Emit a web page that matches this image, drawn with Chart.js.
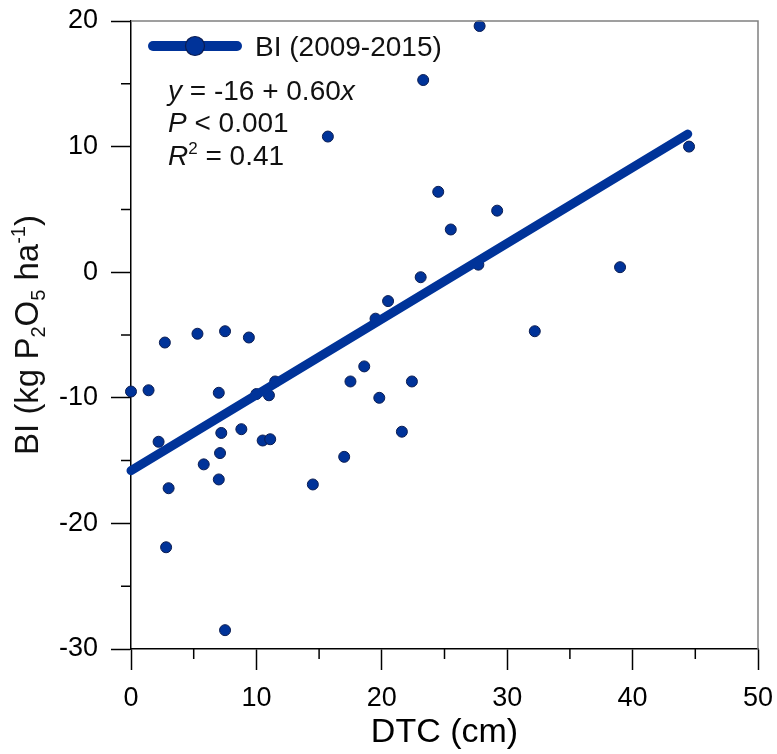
<!DOCTYPE html>
<html>
<head>
<meta charset="utf-8">
<script src="https://cdn.jsdelivr.net/npm/chart.js@4.4.1/dist/chart.umd.min.js"></script>
<style>
  body { margin: 0; background: #fff; }
  #wrap { width: 777px; height: 754px; }
</style>
</head>
<body>
<div id="wrap"><canvas id="myChart" width="777" height="754"></canvas></div>
<script>
// DTC (cm) vs BI (kg P2O5 / ha)
var dtc = [0, 1.4, 2.2, 2.7, 2.8, 3.0, 5.3, 5.8, 7.0, 7.0, 7.1, 7.2, 7.5, 7.5, 8.8, 9.4,
           10.0, 10.5, 11.0, 11.1, 11.5, 14.5, 15.7, 17.0, 17.5, 18.6, 19.5, 19.8, 20.5,
           21.6, 22.4, 23.1, 23.3, 24.5, 25.5, 27.7, 27.8, 29.2, 32.2, 39.0, 44.5];
var bi = [-9.5, -9.4, -13.5, -5.6, -21.9, -17.2, -4.9, -15.3, -9.6, -16.5, -14.4, -12.8, -4.7, -28.5, -12.5, -5.2,
          -9.7, -13.4, -9.8, -13.3, -8.7, -16.9, 10.8, -14.7, -8.7, -7.5, -3.7, -10.0, -2.3,
          -12.7, -8.7, -0.4, 15.3, 6.4, 3.4, 0.6, 19.6, 4.9, -4.7, 0.4, 10.0];

// regression line end points
var fitX = [0, 44.4];
var fitY = [-15.8, 11.0];

var seriesLabel = 'BI (2009-2015)';
var eqLines = [
  [{t: 'y', i: true}, {t: ' = -16 + 0.60'}, {t: 'x', i: true}],
  [{t: 'P', i: true}, {t: ' < 0.001'}],
  [{t: 'R', i: true}, {t: '2', sup: true}, {t: ' = 0.41'}]
];

var blue = '#003399';
var dark = '#0b1d52';
var fam = '"Liberation Sans", Arial, sans-serif';

function drawRich(ctx, x, y, parts, size) {
  parts.forEach(function (p) {
    var s = (p.sup || p.sub) ? Math.round(size * 0.62) : size;
    ctx.font = (p.i ? 'italic ' : '') + s + 'px ' + fam;
    var dy = p.sup ? -size * 0.38 : (p.sub ? size * 0.22 : 0);
    ctx.fillText(p.t, x, y + dy);
    x += ctx.measureText(p.t).width;
  });
}

function richWidth(ctx, parts, size) {
  var w = 0;
  parts.forEach(function (p) {
    var s = (p.sup || p.sub) ? Math.round(size * 0.62) : size;
    ctx.font = (p.i ? 'italic ' : '') + s + 'px ' + fam;
    w += ctx.measureText(p.t).width;
  });
  return w;
}

var extras = {
  id: 'extras',
  afterDraw: function (chart) {
    var ctx = chart.ctx;
    var a = chart.chartArea;
    var xs = chart.scales.x, ys = chart.scales.y;
    ctx.save();

    // grey frame on top and right
    ctx.strokeStyle = '#808080';
    ctx.lineWidth = 1.5;
    ctx.beginPath();
    ctx.moveTo(a.left, a.top);
    ctx.lineTo(a.right, a.top);
    ctx.lineTo(a.right, a.bottom);
    ctx.stroke();

    // minor ticks
    ctx.strokeStyle = '#000';
    ctx.lineWidth = 1.5;
    ctx.beginPath();
    xs.ticks.forEach(function (t) {
      if (t.value % 10 !== 0) {
        var px = xs.getPixelForValue(t.value);
        ctx.moveTo(px, a.bottom);
        ctx.lineTo(px, a.bottom + 10);
      }
    });
    ys.ticks.forEach(function (t) {
      if (t.value % 10 !== 0) {
        var py = ys.getPixelForValue(t.value);
        ctx.moveTo(a.left, py);
        ctx.lineTo(a.left - 10, py);
      }
    });
    ctx.stroke();

    // legend
    var ly = 46;
    ctx.strokeStyle = blue;
    ctx.lineWidth = 10;
    ctx.lineCap = 'round';
    ctx.beginPath();
    ctx.moveTo(153, ly);
    ctx.lineTo(237, ly);
    ctx.stroke();
    ctx.beginPath();
    ctx.arc(195, ly, 9.5, 0, Math.PI * 2);
    ctx.fillStyle = blue;
    ctx.fill();
    ctx.lineWidth = 1.2;
    ctx.strokeStyle = dark;
    ctx.stroke();
    ctx.fillStyle = '#111';
    ctx.textBaseline = 'alphabetic';
    ctx.textAlign = 'left';
    ctx.font = '28px ' + fam;
    ctx.fillText(seriesLabel, 255, 56);

    // regression text
    var base = [100, 132, 165];
    eqLines.forEach(function (ln, k) {
      drawRich(ctx, 168, base[k], ln, 28);
    });

    // y axis title with sub/superscripts
    var yt = [
      {t: 'BI (kg P'}, {t: '2', sub: true}, {t: 'O'}, {t: '5', sub: true},
      {t: ' ha'}, {t: '-1', sup: true}, {t: ')'}
    ];
    var size = 33;
    var w = richWidth(ctx, yt, size);
    ctx.translate(38, (a.top + a.bottom) / 2);
    ctx.rotate(-Math.PI / 2);
    drawRich(ctx, -w / 2, 0, yt, size);

    ctx.restore();
  }
};

var tickFont = { family: fam, size: 27 };

var chart = new Chart(document.getElementById('myChart').getContext('2d'), {
  type: 'scatter',
  data: {
    datasets: [
      {
        type: 'line',
        label: 'fit',
        data: fitX.map(function (x, i) { return { x: x, y: fitY[i] }; }),
        borderColor: blue,
        borderWidth: 9,
        borderCapStyle: 'round',
        pointRadius: 0,
        fill: false,
        clip: false,
        order: 0
      },
      {
        label: seriesLabel,
        data: dtc.map(function (x, i) { return { x: x, y: bi[i] }; }),
        backgroundColor: blue,
        borderColor: dark,
        borderWidth: 1,
        pointRadius: 5.5,
        clip: false,
        order: 1
      }
    ]
  },
  options: {
    responsive: false,
    animation: false,
    events: [],
    layout: { padding: { top: 21, right: 19, left: 0, bottom: 0 } },
    plugins: {
      legend: { display: false },
      tooltip: { enabled: false }
    },
    scales: {
      x: {
        type: 'linear',
        min: 0,
        max: 50,
        afterFit: function (s) {
          s.height = 105;
          s.paddingLeft = 0;
          s.paddingRight = 0;
        },
        border: { display: true, color: '#000', width: 1.5 },
        grid: {
          drawOnChartArea: false,
          drawTicks: true,
          tickLength: 21,
          tickWidth: 1.5,
          tickColor: function (c) { return c.tick && c.tick.value % 10 === 0 ? '#000' : 'rgba(0,0,0,0)'; }
        },
        ticks: {
          stepSize: 5,
          padding: 12,
          maxRotation: 0,
          autoSkip: false,
          color: '#000',
          font: tickFont,
          callback: function (v) { return v % 10 === 0 ? v : ''; }
        },
        title: {
          display: true,
          text: 'DTC (cm)',
          color: '#000',
          font: { family: fam, size: 34 },
          padding: { top: 0, bottom: 1 }
        }
      },
      y: {
        type: 'linear',
        min: -30,
        max: 20,
        afterFit: function (s) {
          s.width = 131;
          s.paddingTop = 0;
          s.paddingBottom = 0;
        },
        border: { display: true, color: '#000', width: 1.5 },
        grid: {
          drawOnChartArea: false,
          drawTicks: true,
          tickLength: 20,
          tickWidth: 1.5,
          tickColor: function (c) { return c.tick && c.tick.value % 10 === 0 ? '#000' : 'rgba(0,0,0,0)'; }
        },
        ticks: {
          stepSize: 5,
          padding: 13,
          autoSkip: false,
          color: '#000',
          font: tickFont,
          callback: function (v) { return v % 10 === 0 ? v : ''; }
        }
      }
    }
  },
  plugins: [extras]
});
</script>
</body>
</html>
